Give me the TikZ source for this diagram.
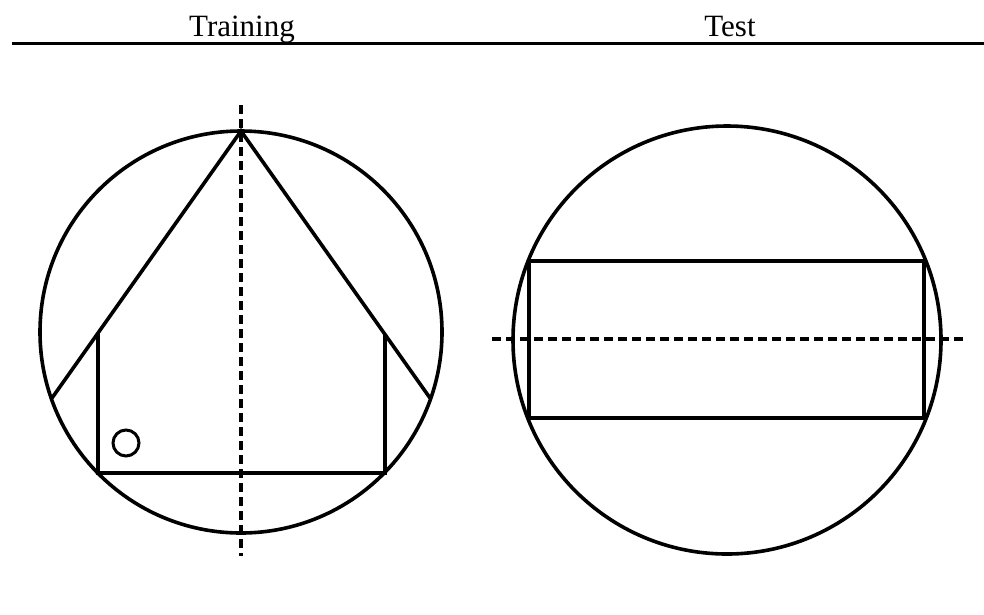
\documentclass[tikz,border=0pt]{standalone}
\usepackage{fontspec}
\setmainfont{Liberation Serif}
\begin{document}
\begin{tikzpicture}[x=1pt,y=-1pt,
  solid line/.style={black,line width=3.6pt,line join=miter},
  thin solid/.style={black,line width=3pt},
  axis line/.style={black,line width=4pt,dash pattern=on 9pt off 5pt},
  head/.style={font=\fontsize{31}{36}\selectfont,anchor=base,inner sep=0pt}]
\useasboundingbox (0,0) rectangle (984,614);

\node[head] (train) at (242,36) {Training};
\node[head] (test) at (730,36) {Test};
\draw[line width=3pt] (12,43) -- (984,43);

\draw[solid line] (241,332) circle (201pt);
\draw[solid line] (52,398) -- (241,131) -- (430,398);
\draw[solid line] (98,333) -- (98,473) -- (385,473) -- (385,334);
\draw[thin solid] (126,443) circle (13pt);
\draw[axis line] (241,105) -- (241,556);

\draw[solid line] (727,340) circle (214pt);
\draw[solid line] (529,261) rectangle (924,418);
\draw[axis line] (492,339) -- (963,339);
\end{tikzpicture}
\end{document}
